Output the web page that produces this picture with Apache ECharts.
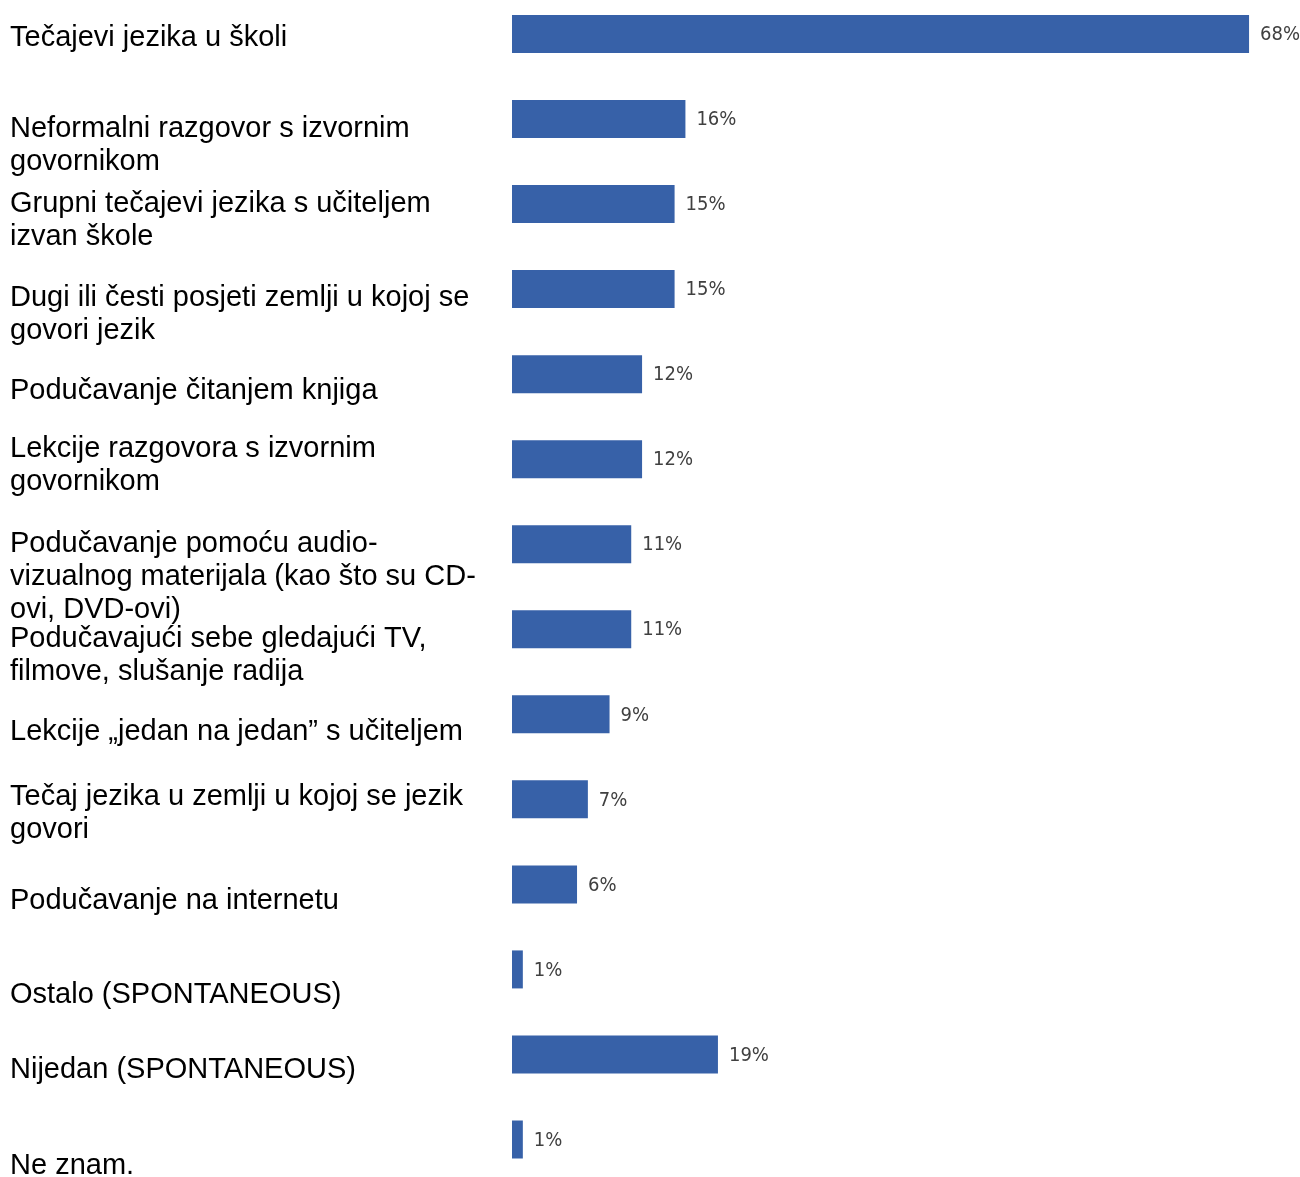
<!DOCTYPE html>
<html>
<head>
<meta charset="utf-8">
<script src="https://cdn.jsdelivr.net/npm/echarts@6/dist/echarts.min.js"></script>
<style>
html,body{margin:0;padding:0;background:#fff;}
#chart{width:1300px;height:1177px;}
</style>
</head>
<body>
<div id="chart"></div>
<script>
// ---- data ----
const categories = [
  'Tečajevi jezika u školi',
  'Neformalni razgovor s izvornim\ngovornikom',
  'Grupni tečajevi jezika s učiteljem\nizvan škole',
  'Dugi ili česti posjeti zemlji u kojoj se\ngovori jezik',
  'Podučavanje čitanjem knjiga',
  'Lekcije razgovora s izvornim\ngovornikom',
  'Podučavanje pomoću audio-\nvizualnog materijala (kao što su CD-\novi, DVD-ovi)',
  'Podučavajući sebe gledajući TV,\nfilmove, slušanje radija',
  'Lekcije „jedan na jedan” s učiteljem',
  'Tečaj jezika u zemlji u kojoj se jezik\ngovori',
  'Podučavanje na internetu',
  'Ostalo (SPONTANEOUS)',
  'Nijedan (SPONTANEOUS)',
  'Ne znam.'
];
const values = [68, 16, 15, 15, 12, 12, 11, 11, 9, 7, 6, 1, 19, 1];

// ---- layout / style ----
// vertical shift (px) of each category label below its bar centre
const labelShift = [3.5, 26.5, 16.5, 25.5, 17, 6, 32.5, 26, 18, 14.5, 16.5, 26, 16, 26];
const BAR_COLOR = '#3761a8';

const rich = {
  t: { fontFamily: 'Liberation Sans, Arial, sans-serif', fontSize: 29, lineHeight: 33, color: '#000000', align: 'left' }
};
labelShift.forEach((s, i) => {
  rich['s' + i] = { fontSize: 1, lineHeight: s * 2, height: s * 2 };
});

const chart = echarts.init(document.getElementById('chart'), null, { renderer: 'canvas' });
chart.setOption({
  animation: false,
  backgroundColor: '#ffffff',
  grid: { left: 512, right: 0, top: 34, bottom: 37.5, containLabel: false, outerBoundsMode: 'none' },
  xAxis: {
    type: 'value', min: 0, max: 72.7,
    show: false
  },
  yAxis: {
    type: 'category',
    inverse: true,
    boundaryGap: false,
    data: categories,
    axisLine: { show: false },
    axisTick: { show: false },
    splitLine: { show: false },
    axisLabel: {
      align: 'left',
      verticalAlign: 'middle',
      margin: 502,
      interval: 0,
      hideOverlap: false,
      formatter: (value, index) =>
        '{s' + index + '| }\n' + value.split('\n').map(l => '{t|' + l + '}').join('\n'),
      rich: rich
    }
  },
  series: [{
    type: 'bar',
    data: values,
    barWidth: 38,
    itemStyle: { color: BAR_COLOR },
    label: {
      show: true,
      position: 'right',
      distance: 11,
      offset: [0, 1],
      formatter: '{c}%',
      fontFamily: '"Liberation Sans Narrow", "Arial Narrow", "DejaVu Sans Condensed", sans-serif',
      fontSize: 20,
      color: '#404040'
    }
  }]
});
</script>
</body>
</html>
